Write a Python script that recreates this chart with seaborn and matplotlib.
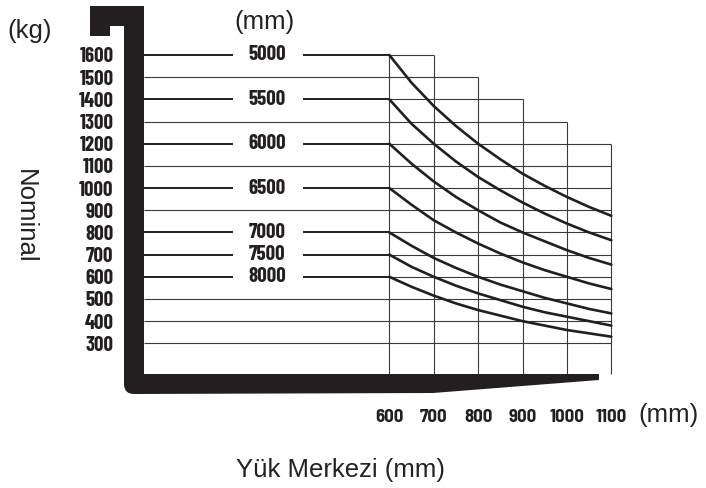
import matplotlib
matplotlib.use("Agg")
import matplotlib.pyplot as plt
import matplotlib.transforms as mtransforms
from matplotlib.path import Path
from matplotlib.patches import PathPatch
import pandas as pd
import seaborn as sns

# lift heights (mm) and their rated capacity (kg) at 600 mm load centre
lift_heights = ["5000", "5500", "6000", "6500", "7000", "7500", "8000"]
rated_kg = [1600, 1400, 1200, 1000, 800, 700, 600]

# load centre positions (mm)
load_centre = [600, 650, 700, 750, 800, 850, 900, 950, 1000, 1050, 1100]
curve_kg = {
    "5000": [1600, 1475, 1370, 1280, 1200, 1130, 1065, 1010, 960, 915, 875],
    "5500": [1400, 1290, 1200, 1120, 1050, 990, 935, 885, 840, 800, 765],
    "6000": [1200, 1110, 1030, 960, 900, 845, 800, 760, 720, 685, 655],
    "6500": [1000, 925, 855, 800, 750, 705, 665, 630, 600, 570, 545],
    "7000": [800, 740, 685, 640, 600, 565, 535, 505, 480, 455, 435],
    "7500": [700, 645, 600, 560, 525, 495, 465, 440, 420, 400, 380],
    "8000": [600, 555, 515, 480, 450, 425, 400, 380, 360, 345, 330],
}

# chart grid
grid_x = [600, 700, 800, 900, 1000, 1100]
grid_top = [1600, 1600, 1500, 1400, 1300, 1200]   # stepped outline
y_ticks = list(range(300, 1700, 100))

W, H = 706, 488
INK = "#231f20"
GRID = "#3a3a3a"

sns.set_style("white")
plt.rcParams["font.family"] = ["Liberation Sans", "DejaVu Sans"]
# condensed bold for the numbers, like the printed plate
narrow = dict(family=["Barlow Condensed", "DejaVu Sans"], weight="bold",
              stretch="condensed")
semi = dict(family=["Barlow Semi Condensed", "DejaVu Sans"], weight="bold",
            stretch="condensed")

fig = plt.figure(figsize=(W / 100, H / 100), dpi=100)
ax = fig.add_axes([144 / W, 1 - 374 / H, (611.3 - 144) / W, (374 - 55) / H])
ax.set_xlim(47.5, 1100)
ax.set_ylim(161.7, 1600)
for s in ax.spines.values():
    s.set_visible(False)

# pixel coordinates (y down) -> figure
px = mtransforms.Affine2D().scale(1 / W, -1 / H).translate(0, 1) + fig.transFigure

x_left = ax.get_xlim()[0]
y_bot = ax.get_ylim()[0]

# thin grid lines
for level in y_ticks:
    right = max(x for x, t in zip(grid_x, grid_top) if t >= level)
    start = 600 if level in rated_kg else x_left
    ax.hlines(level, start, right, color=GRID, lw=0.8, zorder=1, clip_on=False)
for x, t in zip(grid_x, grid_top):
    ax.vlines(x, y_bot, t, color=GRID, lw=0.8, zorder=1, clip_on=False)

# rated capacity lines with the lift height in the gap
gap_lo, gap_hi, label_x = 248, 405, 325
for h, kg in zip(lift_heights, rated_kg):
    ax.hlines(kg, x_left, gap_lo, color=INK, lw=1.4, zorder=2, clip_on=False)
    ax.hlines(kg, gap_hi, 600, color=INK, lw=1.4, zorder=2, clip_on=False)
    ax.text(label_x, kg, h, ha="center", va="center", fontsize=15,
            color=INK, **narrow)

# derating curves
df = pd.DataFrame(
    [(h, x, v) for h in lift_heights for x, v in zip(load_centre, curve_kg[h])],
    columns=["mast", "centre", "kg"],
)
sns.lineplot(data=df, x="centre", y="kg", units="mast", estimator=None,
             color=INK, lw=1.9, ax=ax, legend=False, zorder=3)
for ln in ax.lines:
    ln.set_clip_on(False)
    ln.set_solid_joinstyle("round")

ax.set_xticks(grid_x)
ax.set_xticklabels([str(x) for x in grid_x], fontsize=13.5, color=INK, **semi)
ax.set_yticks(y_ticks)
ax.set_yticklabels([str(y) for y in y_ticks], fontsize=15, color=INK, **narrow)
ax.tick_params(axis="y", length=0, pad=22)
ax.tick_params(axis="x", length=0, pad=25)
ax.set_xlabel("")
ax.set_ylabel("")

# fork silhouette (pixel outline)
verts = [(90, 6), (144, 6), (144, 374), (599, 374), (599, 380), (433, 393),
         (134, 394), (124, 394), (124, 384), (124, 26), (110, 26), (110, 36),
         (90, 36), (90, 6)]
codes = [Path.MOVETO, Path.LINETO, Path.LINETO, Path.LINETO, Path.LINETO,
         Path.LINETO, Path.LINETO, Path.CURVE3, Path.CURVE3, Path.LINETO,
         Path.LINETO, Path.LINETO, Path.LINETO, Path.CLOSEPOLY]
fig.add_artist(PathPatch(Path(verts, codes), facecolor=INK, edgecolor="none",
                         transform=px, zorder=5))

# unit and axis captions
txt = dict(color="#222222", fontsize=18.5, transform=px)
fig.text(30, 31, "(kg)", ha="center", va="center", **txt)
fig.text(264, 22, "(mm)", ha="center", va="center", **txt)
fig.text(669, 415, "(mm)", ha="center", va="center", **txt)
fig.text(25, 216, "Nominal", ha="center", va="center", rotation=270, **txt)
fig.text(341, 477, "Yük Merkezi (mm)", ha="center", va="baseline", **txt)

fig.savefig("out.png", dpi=100)
